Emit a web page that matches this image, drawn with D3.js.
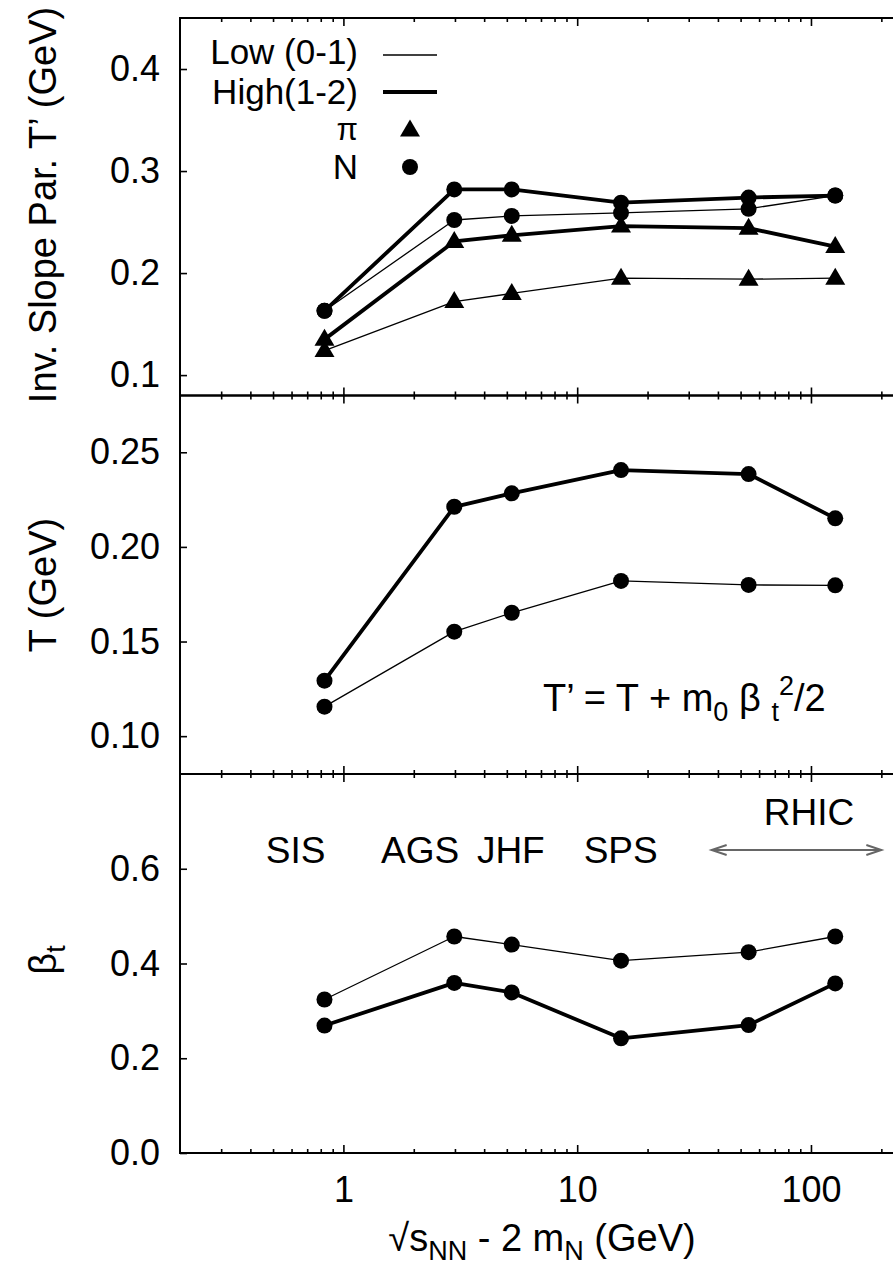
<!DOCTYPE html>
<html>
<head>
<meta charset="utf-8">
<script src="https://cdn.jsdelivr.net/npm/d3@7"></script>
<style>
  html, body { margin: 0; padding: 0; background: #fff; }
  svg { display: block; }
  text { font-family: "Liberation Sans", Arial, Helvetica, sans-serif; fill: #000; }
</style>
</head>
<body>
<svg id="chart" width="893" height="1265"></svg>
<script>
// ---------------- data ----------------
const energies = [0.83, 2.98, 5.25, 15.4, 54.1, 127];          // sqrt(s_NN) - 2 m_N (GeV)
const facilities = ["SIS", "AGS", "JHF", "SPS", "RHIC"];
const facilityPos = [0.625, 2.13, 5.2, 15.35, 98];
const rhicArrow = [37.6, 200];

// top panel: inverse slope parameter T' (GeV)
const slopeLowPi  = [0.124, 0.172, 0.180, 0.195, 0.194, 0.195];
const slopeHighPi = [0.135, 0.231, 0.237, 0.246, 0.244, 0.226];
const slopeLowN   = [0.163, 0.252, 0.256, 0.259, 0.263, 0.276];
const slopeHighN  = [0.163, 0.282, 0.282, 0.269, 0.274, 0.276];

// middle panel: T (GeV)
const tempLow  = [0.1156, 0.1552, 0.1652, 0.182, 0.1799, 0.1797];
const tempHigh = [0.1293, 0.2212, 0.2283, 0.2406, 0.2385, 0.2151];

// bottom panel: beta_t
const betaLow  = [0.324, 0.457, 0.440, 0.406, 0.424, 0.457];
const betaHigh = [0.269, 0.359, 0.339, 0.242, 0.270, 0.358];

const xTicksMajor = [1, 10, 100];
const xTicksMinor = [0.3,0.4,0.5,0.6,0.7,0.8,0.9,2,3,4,5,6,7,8,9,20,30,40,50,60,70,80,90,200];
const yTicks1 = [0.1, 0.2, 0.3, 0.4];
const yTicks2 = [0.10, 0.15, 0.20, 0.25];
const yTicks3 = [0.0, 0.2, 0.4, 0.6];

// ---------------- layout ----------------
const svg = d3.select("#chart");
const FS = 36, FT = 38, FL = 35;
const left = 180, right = 904;
const x = d3.scaleLog().domain([0.2, 250]).range([left, right]);

const panels = [
  { y: d3.scaleLinear().domain([0.08, 0.45]).range([395.5, 18]), ticks: yTicks1, fmt: d3.format(".1f") },
  { y: d3.scaleLinear().domain([0.08, 0.28]).range([774, 395.5]), ticks: yTicks2, fmt: d3.format(".2f") },
  { y: d3.scaleLinear().domain([0.0, 0.8]).range([1153, 774]), ticks: yTicks3, fmt: d3.format(".1f") }
];

function drawAxes(p, isBottom) {
  const [y0, y1] = p.y.range(); // y0 bottom, y1 top
  svg.append("rect").attr("x", left).attr("y", y1).attr("width", right - left).attr("height", y0 - y1)
    .attr("fill", "none").attr("stroke", "#000").attr("stroke-width", 2);
  // bottom ticks (inward, upward)
  const gb = svg.append("g").attr("class", isBottom ? "xbottom" : "").attr("transform", `translate(0,${y0})`);
  gb.call(d3.axisBottom(x).tickValues(xTicksMajor).tickSizeInner(-8).tickSizeOuter(0)
        .tickPadding(24).tickFormat(isBottom ? d3.format("d") : () => ""));
  gb.append("g").call(d3.axisBottom(x).tickValues(xTicksMinor).tickSizeInner(-4).tickSizeOuter(0).tickFormat(() => ""));
  // top ticks (inward, downward)
  const gt = svg.append("g").attr("transform", `translate(0,${y1})`);
  gt.call(d3.axisTop(x).tickValues(xTicksMajor).tickSizeInner(-8).tickSizeOuter(0).tickFormat(() => ""));
  gt.append("g").call(d3.axisTop(x).tickValues(xTicksMinor).tickSizeInner(-4).tickSizeOuter(0).tickFormat(() => ""));
  // left axis
  const gl = svg.append("g").attr("transform", `translate(${left},0)`);
  gl.call(d3.axisLeft(p.y).tickValues(p.ticks).tickSizeInner(-7).tickSizeOuter(0).tickPadding(20).tickFormat(p.fmt));
  svg.selectAll(".domain").remove();
}
panels.forEach((p, i) => drawAxes(p, i === 2));
svg.selectAll(".tick line").attr("stroke", "#000").attr("stroke-width", 1.6);
svg.selectAll(".tick text").attr("font-size", FS).attr("font-family", "Liberation Sans, Arial, sans-serif").attr("fill", "#000");
svg.selectAll(".tick text").filter(function () { return this.textContent === ""; }).remove();
svg.selectAll(".xbottom > .tick text").attr("y", 49).attr("dy", 0);

// ---------------- series ----------------
const TRI_S = 20, TRI_H = 17;
function triPath(cx, cy) {
  return `M${cx},${cy - TRI_H * 0.62}L${cx + TRI_S / 2},${cy + TRI_H * 0.38}L${cx - TRI_S / 2},${cy + TRI_H * 0.38}Z`;
}
function series(yScale, vals, width, marker) {
  const pts = energies.map((e, i) => [x(e), yScale(vals[i])]);
  svg.append("path").attr("d", d3.line()(pts)).attr("fill", "none")
    .attr("stroke", "#000").attr("stroke-width", width).attr("stroke-linejoin", "round");
  if (marker === "circle") {
    svg.append("g").selectAll("circle").data(pts).join("circle")
      .attr("cx", d => d[0]).attr("cy", d => d[1]).attr("r", 8).attr("fill", "#000");
  } else {
    svg.append("g").selectAll("path").data(pts).join("path")
      .attr("d", d => triPath(d[0], d[1])).attr("fill", "#000");
  }
}
const THIN = 1.3, THICK = 3.8;
const [P1, P2, P3] = panels.map(p => p.y);
series(P1, slopeLowPi, THIN, "tri");
series(P1, slopeHighPi, THICK, "tri");
series(P1, slopeLowN, THIN, "circle");
series(P1, slopeHighN, THICK, "circle");
series(P2, tempLow, THIN, "circle");
series(P2, tempHigh, THICK, "circle");
series(P3, betaLow, THIN, "circle");
series(P3, betaHigh, THICK, "circle");

// ---------------- legend ----------------
const leg = svg.append("g");
const legX = 358, lineX0 = 383, lineX1 = 437, mkX = 410;
leg.append("text").attr("x", legX).attr("y", 64).attr("text-anchor", "end").attr("font-size", FL).text("Low (0-1)");
leg.append("line").attr("x1", lineX0).attr("x2", lineX1).attr("y1", 55).attr("y2", 55).attr("stroke", "#000").attr("stroke-width", THIN);
leg.append("text").attr("x", legX).attr("y", 104).attr("text-anchor", "end").attr("font-size", FL).text("High(1-2)");
leg.append("line").attr("x1", lineX0).attr("x2", lineX1).attr("y1", 92).attr("y2", 92).attr("stroke", "#000").attr("stroke-width", THICK);
leg.append("text").attr("x", legX).attr("y", 140).attr("text-anchor", "end").attr("font-size", 31)
  .attr("font-family", "Liberation Serif, Times New Roman, serif").text("π");
leg.append("path").attr("d", triPath(mkX, 130)).attr("fill", "#000");
leg.append("text").attr("x", legX).attr("y", 179).attr("text-anchor", "end").attr("font-size", FL).text("N");
leg.append("circle").attr("cx", mkX).attr("cy", 167).attr("r", 8).attr("fill", "#000");

// ---------------- axis titles ----------------
function vTitle(cy, build) {
  const t = svg.append("text").attr("transform", `translate(56,${cy}) rotate(-90)`)
    .attr("text-anchor", "middle").attr("font-size", FT);
  build(t);
}
vTitle(205, t => t.text("Inv. Slope Par. T’ (GeV)"));
vTitle(585, t => t.text("T (GeV)"));
vTitle(960, t => {
  t.append("tspan").text("β");
  t.append("tspan").attr("font-size", 27).attr("dy", 9).text("t");
});

const xt = svg.append("text").attr("x", 542).attr("y", 1251).attr("text-anchor", "middle").attr("font-size", FT);
xt.append("tspan").text("√s");
xt.append("tspan").attr("font-size", 27).attr("dy", 9).text("NN");
xt.append("tspan").attr("dy", -9).text(" - 2 m");
xt.append("tspan").attr("font-size", 27).attr("dy", 9).text("N");
xt.append("tspan").attr("dy", -9).text(" (GeV)");

// ---------------- annotations ----------------
const eq = svg.append("text").attr("x", 543).attr("y", 711).attr("font-size", FT);
eq.append("tspan").text("T’ = T + m");
eq.append("tspan").attr("font-size", 27).attr("dy", 10).text("0");
eq.append("tspan").attr("dy", -10).text(" β ");
eq.append("tspan").attr("font-size", 27).attr("dy", 10).text("t");
eq.append("tspan").attr("font-size", 27).attr("dy", -26).text("2");
eq.append("tspan").attr("dy", 16).text("/2");

svg.append("g").selectAll("text").data(facilities).join("text")
  .attr("x", (d, i) => x(facilityPos[i]))
  .attr("y", (d, i) => d === "RHIC" ? P3(0.692) : P3(0.6115))
  .attr("text-anchor", "middle").attr("font-size", 37).text(d => d);

// RHIC arrow
const ay = P3(0.6396), ax0 = x(rhicArrow[0]), ax1 = x(rhicArrow[1]);
const arrow = svg.append("g").attr("stroke", "#666").attr("stroke-width", 2).attr("fill", "none");
arrow.append("line").attr("x1", ax0).attr("x2", ax1).attr("y1", ay).attr("y2", ay);
arrow.append("path").attr("d", `M${ax0 + 15},${ay - 5}L${ax0},${ay}L${ax0 + 15},${ay + 5}`);
arrow.append("path").attr("d", `M${ax1 - 15},${ay - 5}L${ax1},${ay}L${ax1 - 15},${ay + 5}`);
</script>
</body>
</html>
